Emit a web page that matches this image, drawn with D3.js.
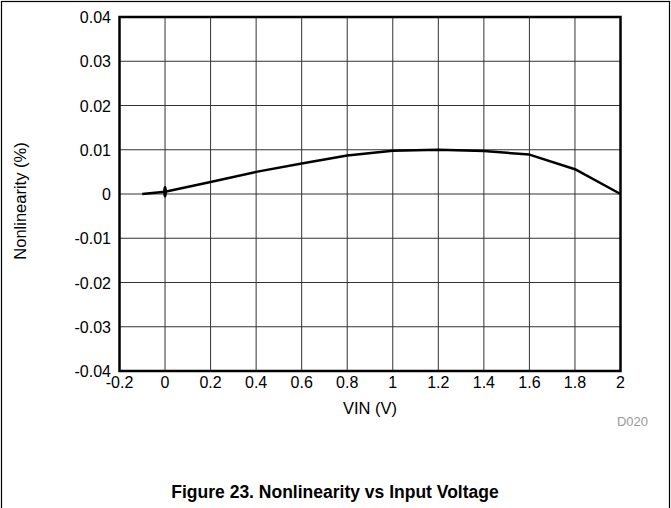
<!DOCTYPE html>
<html>
<head>
<meta charset="utf-8">
<script src="https://cdn.jsdelivr.net/npm/d3@7"></script>
<style>
  body { margin: 0; background: #fff; }
  svg { display: block; font-family: "Liberation Sans", Arial, sans-serif; }
</style>
</head>
<body>
<div id="viz"></div>
<script>
// data
const vin = [-0.1, 0, 0.2, 0.4, 0.6, 0.8, 1.0, 1.2, 1.4, 1.6, 1.8, 2.0];
const nonlin = [0, 0.0005, 0.0027, 0.005, 0.0069, 0.0087, 0.0098, 0.01, 0.0097, 0.0089, 0.0056, 0.0];
const xTicks = [-0.2, 0, 0.2, 0.4, 0.6, 0.8, 1, 1.2, 1.4, 1.6, 1.8, 2];
const yTicks = [-0.04, -0.03, -0.02, -0.01, 0, 0.01, 0.02, 0.03, 0.04];

const width = 671;
const height = 508;
const plot = { left: 119.5, top: 17, right: 620.5, bottom: 371 };

const svg = d3.select('#viz').append('svg')
  .attr('width', width)
  .attr('height', height);

// outer frame
svg.append('rect')
  .attr('x', 1.5).attr('y', 1.5)
  .attr('width', width - 3).attr('height', height + 10)
  .attr('fill', 'none').attr('stroke', '#000').attr('stroke-width', 1.2);

const x = d3.scaleLinear().domain([-0.2, 2]).range([plot.left, plot.right]);
const y = d3.scaleLinear().domain([-0.04, 0.04]).range([plot.bottom, plot.top]);

// grid
const grid = svg.append('g').attr('stroke', '#333').attr('stroke-width', 1);
grid.selectAll('.vx').data(xTicks.slice(1, -1)).enter().append('line')
  .attr('x1', d => x(d)).attr('x2', d => x(d))
  .attr('y1', plot.top).attr('y2', plot.bottom);
grid.selectAll('.hy').data(yTicks.slice(1, -1)).enter().append('line')
  .attr('x1', plot.left).attr('x2', plot.right)
  .attr('y1', d => y(d)).attr('y2', d => y(d));

// tick labels
const fmt = d => (d === 0 ? '0' : String(+d.toFixed(2)));
svg.append('g').selectAll('text').data(yTicks).enter().append('text')
  .attr('x', 111).attr('y', d => y(d) + 6)
  .attr('text-anchor', 'end')
  .attr('font-size', 16)
  .text(fmt);
svg.append('g').selectAll('text').data(xTicks).enter().append('text')
  .attr('x', d => x(d)).attr('y', 388)
  .attr('text-anchor', 'middle')
  .attr('font-size', 16)
  .text(fmt);

// axis titles
svg.append('text')
  .attr('x', x(0.9)).attr('y', 414)
  .attr('text-anchor', 'middle').attr('font-size', 16.5)
  .text('VIN (V)');
svg.append('text')
  .attr('transform', 'translate(26,201) rotate(-90)')
  .attr('text-anchor', 'middle').attr('font-size', 16.5)
  .text('Nonlinearity (%)');

// data line
const line = d3.line().x((d, i) => x(vin[i])).y(d => y(d));
svg.append('path')
  .datum(nonlin)
  .attr('d', line)
  .attr('fill', 'none')
  .attr('stroke', '#000')
  .attr('stroke-width', 2.5)
  .attr('stroke-linejoin', 'round');

// small marker at VIN = 0
svg.append('ellipse')
  .attr('cx', x(vin[1])).attr('cy', y(nonlin[1]))
  .attr('rx', 2).attr('ry', 6)
  .attr('fill', '#000');

// plot border
svg.append('rect')
  .attr('x', plot.left).attr('y', plot.top)
  .attr('width', plot.right - plot.left).attr('height', plot.bottom - plot.top)
  .attr('fill', 'none').attr('stroke', '#000').attr('stroke-width', 2.5);

// id label
svg.append('text')
  .attr('x', 648).attr('y', 426)
  .attr('text-anchor', 'end').attr('font-size', 13)
  .attr('fill', '#999')
  .text('D020');

// caption
svg.append('text')
  .attr('x', 335).attr('y', 498)
  .attr('text-anchor', 'middle').attr('font-size', 17.5)
  .attr('font-weight', 'bold')
  .text('Figure 23. Nonlinearity vs Input Voltage');
</script>
</body>
</html>
